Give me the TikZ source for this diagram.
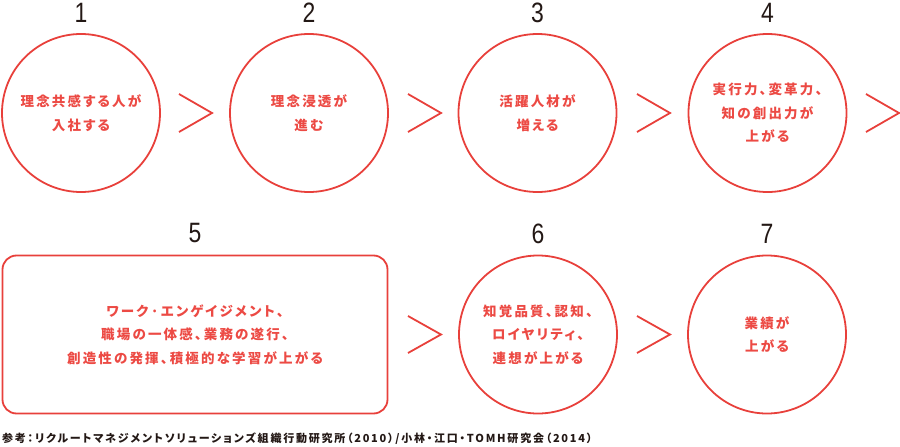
\documentclass[tikz,border=0pt]{standalone}
\usepackage{fontspec}
\newfontfamily\jp[LetterSpace=16,RawFeature=+palt]{Noto Sans CJK JP}
\newfontfamily\jpnote[LetterSpace=16,RawFeature=+palt]{Noto Sans CJK JP}
\newfontfamily\numfont{Liberation Sans}
\definecolor{rd}{HTML}{E8403B}
\definecolor{rdtxt}{HTML}{EC4A44}
\definecolor{ink}{HTML}{231815}
\begin{document}
\begin{tikzpicture}[x=1pt,y=-1pt,
  stage/.style={circle,draw=rd,line width=1.8pt,minimum size=158pt,inner sep=0pt},
  wide/.style={rounded corners=14pt,draw=rd,line width=1.8pt,minimum width=385pt,minimum height=158pt,inner sep=0pt},
  lbl/.style={text=rdtxt,font=\jp\bfseries\fontsize{13.5}{23.5}\selectfont,align=center},
  num/.style={text=ink,font=\numfont\fontsize{28}{28}\selectfont,xscale=0.82,inner sep=0pt},
  chev/.style={draw=rd,line width=1.8pt},
  note/.style={text=ink,font=\jpnote\bfseries\fontsize{11}{11}\selectfont,anchor=west,inner sep=0pt}]
\useasboundingbox (0,0) rectangle (900,447);
% row 1
\node[stage] (c1) at (81,113) {};
\node[stage] (c2) at (309,113) {};
\node[stage] (c3) at (537.5,113) {};
\node[stage] (c4) at (767.5,113) {};
\node[lbl] (t1) at (c1) {理念共感する人が\\入社する};
\node[lbl] (t2) at (c2) {理念浸透が\\進む};
\node[lbl] (t3) at (c3) {活躍人材が\\増える};
\node[lbl] (t4) at (c4) {実行力、変革力、\\知の創出力が\\上がる};
\node[num] (n1) at (81,13) {1};
\node[num] (n2) at (309,13) {2};
\node[num] (n3) at (537.5,13) {3};
\node[num] (n4) at (767.5,13) {4};
% chevrons row 1
\coordinate (a1) at (179,94); \coordinate (b1) at (212,113); \coordinate (e1) at (179,132);
\coordinate (a2) at (408,94); \coordinate (b2) at (441,113); \coordinate (e2) at (408,132);
\coordinate (a3) at (637,94); \coordinate (b3) at (670,113); \coordinate (e3) at (637,132);
\coordinate (a4) at (866,94); \coordinate (b4) at (899,113); \coordinate (e4) at (866,132);
\draw[chev] (a1) -- (b1) -- (e1);
\draw[chev] (a2) -- (b2) -- (e2);
\draw[chev] (a3) -- (b3) -- (e3);
\draw[chev] (a4) -- (b4) -- (e4);
% row 2
\node[wide] (r5) at (195,334.5) {};
\node[stage] (c6) at (538,334.5) {};
\node[stage] (c7) at (767,334.5) {};
\node[lbl] (t5) at (r5) {ワーク·エンゲイジメント、\\職場の一体感、業務の遂行、\\創造性の発揮、積極的な学習が上がる};
\node[lbl] (t6) at (c6) {知覚品質、認知、\\ロイヤリティ、\\連想が上がる};
\node[lbl] (t7) at (c7) {業績が\\上がる};
\node[num] (n5) at (195,233.5) {5};
\node[num] (n6) at (538,233.5) {6};
\node[num] (n7) at (767,233.5) {7};
\coordinate (a5) at (408,316); \coordinate (b5) at (441,334.5); \coordinate (e5) at (408,353);
\coordinate (a6) at (637,316); \coordinate (b6) at (670,334.5); \coordinate (e6) at (637,353);
\draw[chev] (a5) -- (b5) -- (e5);
\draw[chev] (a6) -- (b6) -- (e6);
% footnote
\node[note] (fn) at (2,439) {参考：リクルートマネジメントソリューションズ組織行動研究所（2010）/小林・江口・TOMH研究会（2014）};
\end{tikzpicture}
\end{document}
